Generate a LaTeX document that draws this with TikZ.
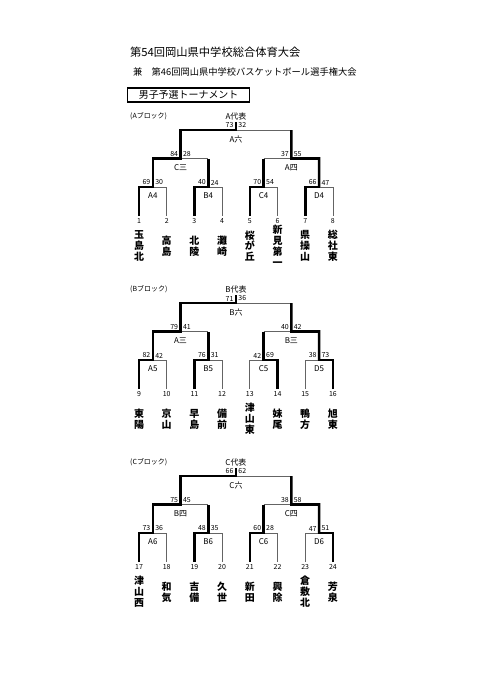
\documentclass[tikz,border=0pt]{standalone}
\usepackage{fontspec}
\setmainfont{Noto Sans CJK JP}
\usetikzlibrary{positioning,backgrounds}
\definecolor{losec}{RGB}{100,100,100}
\definecolor{winc}{RGB}{0,0,0}
\tikzset{
  lose/.style     = {draw=losec, line width=0.8bp},
  win/.style      = {draw=winc, line width=2.6bp},
  score/.style    = {font=\fontsize{7}{7}\selectfont, inner sep=0pt},
  game/.style     = {font=\fontsize{8}{8}\selectfont, inner sep=0pt},
  num/.style      = {font=\fontsize{7}{7}\selectfont, inner sep=0pt},
  school/.style   = {font=\fontsize{10}{11}\selectfont\bfseries, align=center, inner sep=0pt},
  blocklbl/.style = {font=\fontsize{7}{7}\selectfont, inner sep=0pt, anchor=west},
  headbox/.style  = {draw, line width=1.2bp, minimum width=122bp, minimum height=14bp,
                     inner sep=0pt, font=\fontsize{10}{10}\selectfont},
}
\begin{document}
\begin{tikzpicture}[x=1bp, y=-1bp]
\useasboundingbox (0,0) rectangle (481,680);

\node[anchor=west, inner sep=0pt, font=\fontsize{11.3}{12}\selectfont] (title) at (130,52)
  {第54回岡山県中学校総合体育大会};
\node[anchor=west, inner sep=0pt, font=\fontsize{9.3}{10}\selectfont] (subtitle) at (133,72)
  {兼　第46回岡山県中学校バスケットボール選手権大会};
\node[headbox, anchor=west] (head) at (127,95) {男子予選トーナメント};

\foreach \blk/\k/\yb/\schools/\games in {
  A/0/130/{玉\\島\\北,高\\島,北\\陵,灘\\崎,桜\\が\\丘,新\\見\\第\\一,県\\操\\山,総\\社\\東}/%
          {69/30/A4,40/24/B4,70/54/C4,66/47/D4,84/28/C三,37/55/A四,73/32/A六},
  B/1/303/{東\\陽,京\\山,早\\島,備\\前,津\\山\\東,妹\\尾,鴨\\方,旭\\東}/%
          {82/42/A5,76/31/B5,42/69/C5,38/73/D5,79/41/A三,40/42/B三,71/36/B六},
  C/2/476/{津\\山\\西,和\\気,吉\\備,久\\世,新\\田,興\\除,倉\\敷\\北,芳\\泉}/%
          {73/36/A6,48/35/B6,60/28/C6,47/51/D6,75/45/B四,38/58/C四,66/62/C六}}
{
  \coordinate (\blk-base) at (0,\yb+86);
  \coordinate (\blk-row) at (0,\yb+116);
  \node[blocklbl] (\blk-lbl) at (130,\yb-14) {(\blk ブロック)};

  % leaves: numbers and schools
  \foreach \nm [count=\i] in \schools {
    \pgfmathtruncatemacro\no{8*\k+\i}
    \coordinate (\blk-t\i) at (139+27.7*\i-27.7,\yb+57);
    \coordinate (\blk-b\i) at (\blk-t\i |- \blk-base);
    \begin{scope}[on background layer]
      \draw[lose] (\blk-t\i) -- (\blk-b\i);
    \end{scope}
    \node[num, below=2.4bp of \blk-b\i] (\blk-n\i) {\no};
    \node[school] (\blk-s\i) at (\blk-b\i |- \blk-row) {\nm};
  }

  % games: thin bar, thick path of the winner, scores
  \foreach \ls/\rs/\lab [count=\j] in \games {
    \pgfmathsetmacro\cx{\j<5 ? 152.85+55.4*(\j-1) : (\j<7 ? 180.55+110.8*(\j-5) : 235.95)}
    \pgfmathsetmacro\hw{\j<5 ? 13.85 : (\j<7 ? 27.7 : 55.4)}
    \pgfmathsetmacro\ly{\yb + (\j<5 ? 57 : (\j<7 ? 28.5 : 0))}
    \pgfmathsetmacro\uy{\ly - (\j<7 ? 28.5 : 8)}
    \pgfmathtruncatemacro\s{\rs>\ls ? 1 : 0}
    \coordinate (\blk-m\j) at (\cx,\ly);
    \coordinate (\blk-m\j-0) at (\cx-\hw,\ly);
    \coordinate (\blk-m\j-1) at (\cx+\hw,\ly);
    \coordinate (\blk-m\j-up) at (\cx,\uy);
    \begin{scope}[on background layer]
      \draw[lose] (\blk-m\j-0) -- (\blk-m\j-1);
    \end{scope}
    \ifnum\j<5
      \draw[win] (\blk-m\j-\s |- \blk-base) -- (\blk-m\j-\s) -- (\blk-m\j) -- (\blk-m\j-up);
    \else
      \pgfmathtruncatemacro\c{2*\j-9+\s}
      \draw[win] (\blk-m\c) -- (\blk-m\j-\s) -- (\blk-m\j) -- (\blk-m\j-up);
    \fi
    \node[score, above left=1.8bp and 2.3bp of \blk-m\j] (\blk-ls\j) {\ls};
    \node[score, above right=1.8bp and 2.3bp of \blk-m\j] (\blk-rs\j) {\rs};
    \node[game, below=5.5bp of \blk-m\j] (\blk-g\j) {\lab};
  }
  \node[game, above=2bp of \blk-m7-up] (\blk-rep) {\blk 代表};
}

\end{tikzpicture}
\end{document}
